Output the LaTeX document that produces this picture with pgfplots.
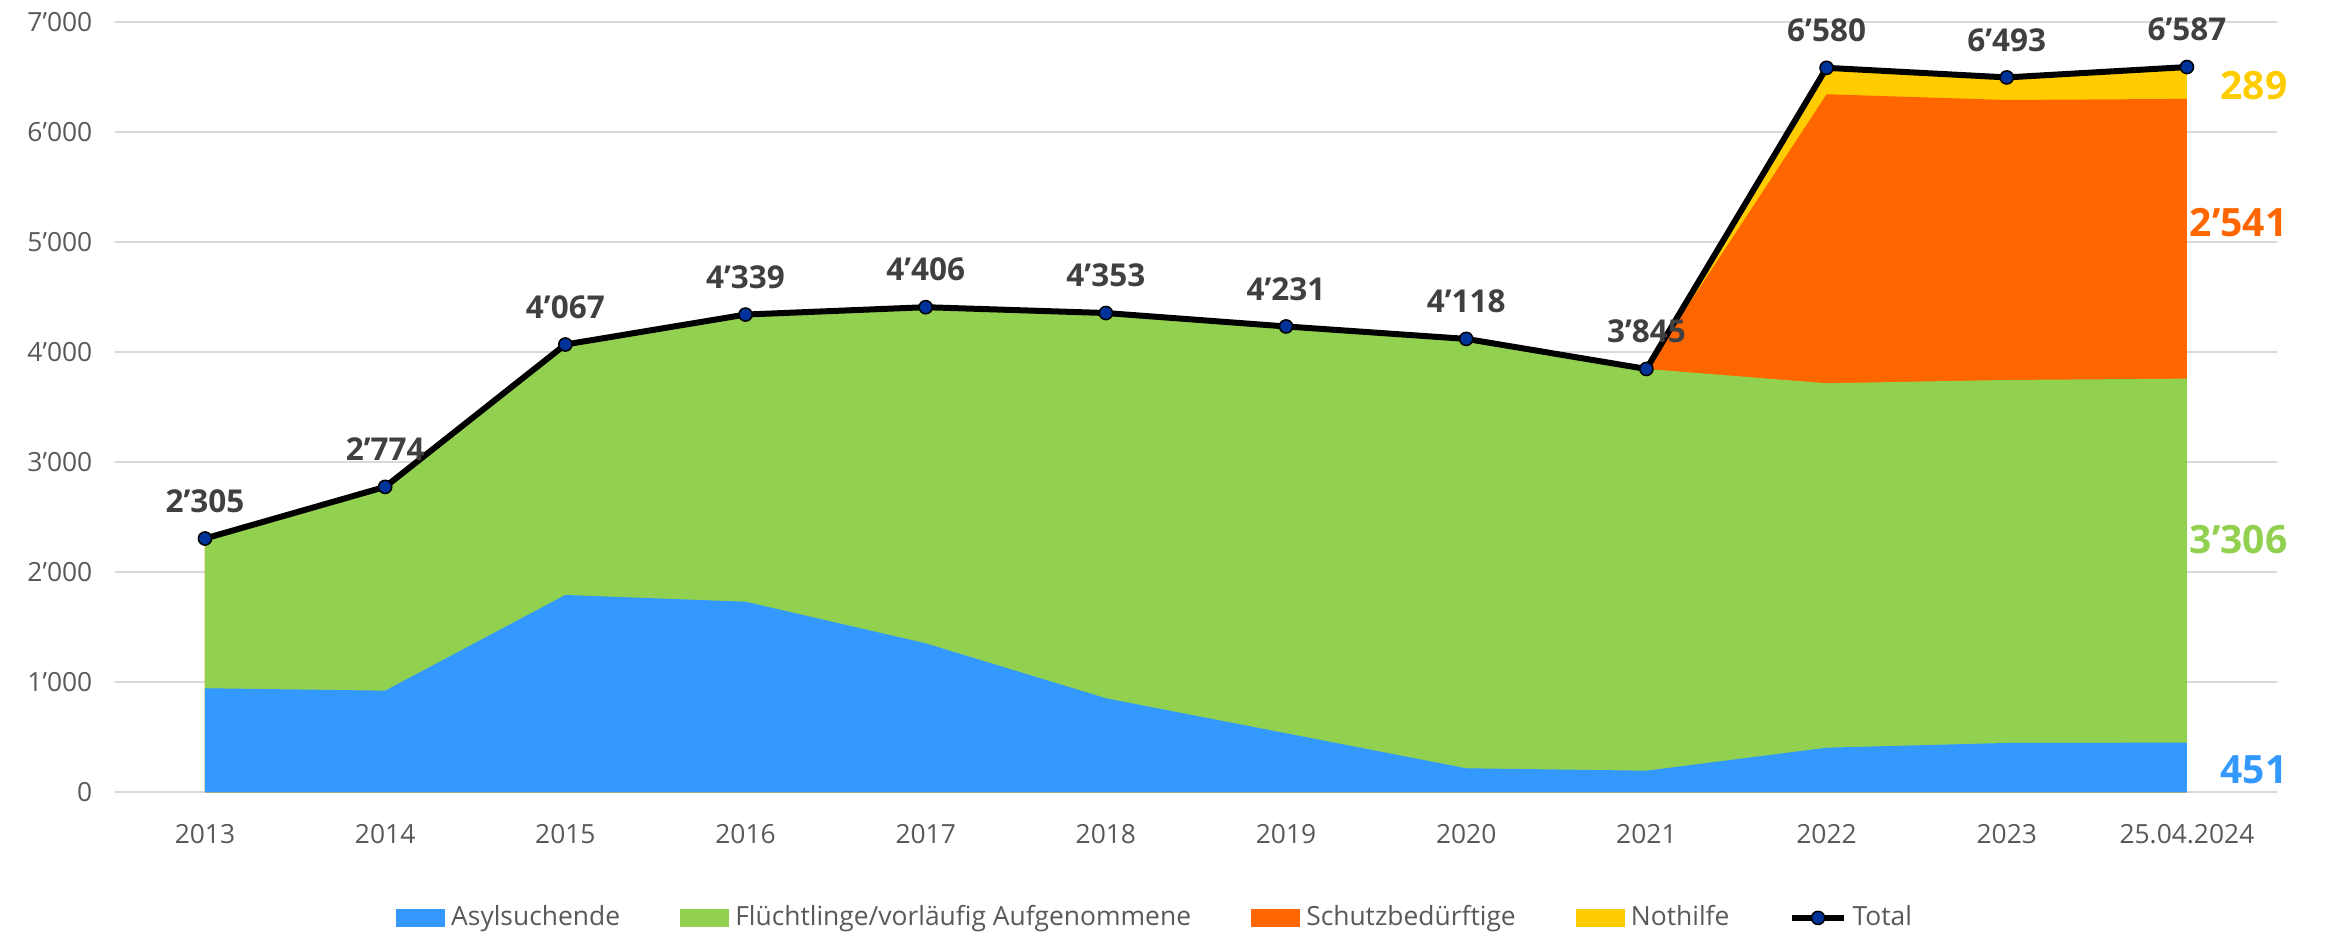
\documentclass[border=0pt]{standalone}
\usepackage{fontspec}
\setmainfont{Open Sans}
\usepackage{pgfplots}
\usepackage{pgfplotstable}
\pgfplotsset{compat=1.18}
\usetikzlibrary{calc}
\definecolor{cblue}{HTML}{3399FF}
\definecolor{cgreen}{HTML}{92D050}
\definecolor{corange}{HTML}{FF6600}
\definecolor{cyellow}{HTML}{FFCC00}
\definecolor{cmark}{HTML}{003399}
\definecolor{ctext}{HTML}{595959}
\definecolor{clab}{HTML}{404040}
\definecolor{cgrid}{HTML}{D9D9D9}

\pgfplotstableread{
x blue green orange yellow total
0 945 1360 0 0 2305
1 923 1851 0 0 2774
2 1792 2275 0 0 4067
3 1731 2608 0 0 4339
4 1353 3053 0 0 4406
5 854 3499 0 0 4353
6 536 3695 0 0 4231
7 218 3900 0 0 4118
8 196 3649 0 0 3845
9 405 3310 2625 240 6580
10 448 3297 2543 205 6493
11 451 3306 2541 289 6587
}\data

\begin{document}
\begin{tikzpicture}
\begin{axis}[name=ax, scale only axis, width=720.7pt, height=256.9pt,
  xmin=-0.5, xmax=11.5, ymin=0, ymax=7000, clip=false,
  axis line style={draw=none}, major tick length=0pt,
  ymajorgrids, grid style={cgrid, line width=0.7pt},
  xtick={0,...,11},
  xticklabels={2013,2014,2015,2016,2017,2018,2019,2020,2021,2022,2023,25.04.2024},
  ytick={0,1000,...,7000},
  yticklabels={0,1’000,2’000,3’000,4’000,5’000,6’000,7’000},
  tick label style={font=\fontsize{8.8}{10}\selectfont, text=ctext},
  xticklabel style={yshift=-7pt},
  yticklabel style={xshift=-4pt},
  legend columns=-1,
  legend style={at={(0.482,-0.163)}, anchor=center, draw=none, fill=none,
    font=\fontsize{8.8}{10}\selectfont, text=ctext,
    /tikz/every even column/.append style={column sep=18pt}},
]
\addplot[fill=cyellow, draw=none, forget plot] table[x=x, y expr=\thisrow{blue}+\thisrow{green}+\thisrow{orange}+\thisrow{yellow}] {\data} \closedcycle;
\addplot[fill=corange, draw=none, forget plot] table[x=x, y expr=\thisrow{blue}+\thisrow{green}+\thisrow{orange}] {\data} \closedcycle;
\addplot[fill=cgreen, draw=none, forget plot] table[x=x, y expr=\thisrow{blue}+\thisrow{green}] {\data} \closedcycle;
\addplot[fill=cblue, draw=none, forget plot] table[x=x, y=blue] {\data} \closedcycle;

\addlegendimage{legend image code/.code={\fill[cblue] (0pt,-2.85pt) rectangle (16pt,2.85pt);}}
\addlegendentry{Asylsuchende}
\addlegendimage{legend image code/.code={\fill[cgreen] (0pt,-2.85pt) rectangle (16pt,2.85pt);}}
\addlegendentry{Flüchtlinge/vorläufig Aufgenommene}
\addlegendimage{legend image code/.code={\fill[corange] (0pt,-2.85pt) rectangle (16pt,2.85pt);}}
\addlegendentry{Schutzbedürftige}
\addlegendimage{legend image code/.code={\fill[cyellow] (0pt,-2.85pt) rectangle (16pt,2.85pt);}}
\addlegendentry{Nothilfe}

\addplot[black, line width=2pt, mark=*, mark size=2.2pt,
  mark options={fill=cmark, draw=black, line width=0.5pt},
  point meta=explicit symbolic, nodes near coords,
  every node near coord/.append style={anchor=center, yshift=12.5pt,
    font=\bfseries\fontsize{10.5}{12}\selectfont, text=clab}]
coordinates {(0,2305)[2’305] (1,2774)[2’774] (2,4067)[4’067] (3,4339)[4’339]
 (4,4406)[4’406] (5,4353)[4’353] (6,4231)[4’231] (7,4118)[4’118]
 (8,3845)[3’845] (9,6580)[6’580] (10,6493)[6’493] (11,6587)[6’587]};
\addlegendentry{Total}

\node[anchor=east, xshift=7pt, font=\bfseries\fontsize{13}{15}\selectfont, text=cyellow] at (axis cs:11.5,6415) {289};
\node[anchor=east, xshift=7pt, font=\bfseries\fontsize{13}{15}\selectfont, text=corange] at (axis cs:11.5,5175) {2’541};
\node[anchor=east, xshift=7pt, font=\bfseries\fontsize{13}{15}\selectfont, text=cgreen] at (axis cs:11.5,2300) {3’306};
\node[anchor=east, xshift=7pt, font=\bfseries\fontsize{13}{15}\selectfont, text=cblue] at (axis cs:11.5,202) {451};
\end{axis}
\pgfresetboundingbox
\path[use as bounding box] ($(ax.south west)+(-38.3pt,-47.6pt)$) rectangle ($(ax.north east)+(17pt,7.2pt)$);
\end{tikzpicture}
\end{document}
